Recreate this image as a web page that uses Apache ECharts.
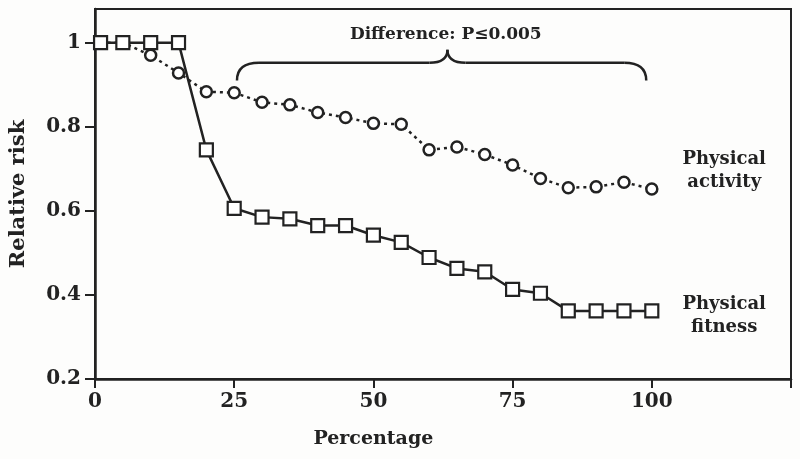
<!DOCTYPE html>
<html>
<head>
<meta charset="utf-8">
<script src="https://cdn.jsdelivr.net/npm/echarts@6/dist/echarts.min.js"></script>
<style>
html,body{margin:0;padding:0;background:#fdfdfc;}
#c{width:800px;height:459px;}
</style>
</head>
<body>
<div id="c"></div>
<script>
var percentages = [1, 5, 10, 15, 20, 25, 30, 35, 40, 45, 50, 55, 60, 65, 70, 75, 80, 85, 90, 95, 100];
var physicalFitness = [1.0, 1.0, 1.0, 1.0, 0.745, 0.606, 0.585, 0.581, 0.565, 0.565, 0.542, 0.525, 0.489, 0.463, 0.455, 0.413, 0.404, 0.362, 0.362, 0.362, 0.362];
var physicalActivity = [1.0, 1.0, 0.970, 0.928, 0.883, 0.881, 0.858, 0.852, 0.834, 0.822, 0.808, 0.806, 0.745, 0.752, 0.734, 0.709, 0.677, 0.655, 0.657, 0.668, 0.652];
var xTicks = [0, 25, 50, 75, 100, 125];
var xTickLabels = [0, 25, 50, 75, 100];
var yTicks = [0.2, 0.4, 0.6, 0.8, 1];
var annotationText = 'Difference: P\u22640.005';
var seriesNames = ['Physical\nactivity', 'Physical\nfitness'];

var ink = '#222';
var FONT = 'DejaVu Serif';

function zip(xs, ys) { return xs.map(function (x, i) { return [x, ys[i]]; }); }

var chart = echarts.init(document.getElementById('c'), null, {renderer: 'canvas'});
chart.setOption({
  backgroundColor: '#fdfdfc',
  animation: false,
  grid: {left: 94, right: 9, top: 9, bottom: 80, show: true, borderColor: ink, borderWidth: 2, backgroundColor: 'transparent'},
  xAxis: {
    type: 'value', min: 0, max: 125, interval: 25,
    axisLine: {lineStyle: {color: ink, width: 2.5}},
    axisTick: {show: true, inside: false, length: 9, lineStyle: {color: ink, width: 2}, customValues: xTicks},
    axisLabel: {customValues: xTickLabels, color: ink, fontFamily: FONT, fontWeight: 'bold', fontSize: 20, margin: 13},
    splitLine: {show: false}
  },
  yAxis: {
    type: 'value', min: 0.2, max: 1.08, interval: 0.2,
    axisLine: {show: true, lineStyle: {color: ink, width: 2.5}},
    axisTick: {show: true, inside: false, length: 10, lineStyle: {color: ink, width: 2}, customValues: yTicks},
    axisLabel: {customValues: yTicks, color: ink, fontFamily: FONT, fontWeight: 'bold', fontSize: 20, margin: 14,
      formatter: function (v) { return String(Math.round(v * 10) / 10); }},
    splitLine: {show: false},
    name: 'Relative risk', nameLocation: 'middle', nameGap: 66, nameRotate: 90,
    nameTextStyle: {color: ink, fontFamily: FONT, fontWeight: 'bold', fontSize: 21}
  },
  series: [
    {
      name: 'Physical activity', type: 'line', data: zip(percentages, physicalActivity),
      symbol: 'circle', symbolSize: 11, z: 2,
      lineStyle: {color: ink, width: 2.5, type: [3, 4]},
      itemStyle: {color: '#fff', borderColor: ink, borderWidth: 2.5}
    },
    {
      name: 'Physical fitness', type: 'line', data: zip(percentages, physicalFitness),
      symbol: 'rect', symbolSize: 13, z: 3,
      lineStyle: {color: ink, width: 2.5},
      itemStyle: {color: '#fff', borderColor: ink, borderWidth: 2.2}
    }
  ]
});

function px(x, y) { return chart.convertToPixel({gridIndex: 0}, [x, y]); }

var L = px(25.5, 0.91), R = px(99, 0.91), M = px(63.3, 0.983);
var lineY = px(0, 0.952)[1];
var r = 22, r2 = 18;
var braceStyle = {fill: null, stroke: ink, lineWidth: 2.5};
function curve(x1, y1, cx, cy, x2, y2) {
  return {type: 'bezierCurve', shape: {x1: x1, y1: y1, cpx1: cx, cpy1: cy, x2: x2, y2: y2}, style: braceStyle};
}
function seg(x1, y1, x2, y2) {
  return {type: 'line', shape: {x1: x1, y1: y1, x2: x2, y2: y2}, style: braceStyle};
}

var tPos = px(63, 1.018);
var actPos = px(113, 0.695);
var fitPos = px(113, 0.35);
var xName = px(50, 0);

chart.setOption({
  graphic: [
    curve(L[0], L[1], L[0], lineY, L[0] + r, lineY),
    seg(L[0] + r, lineY, M[0] - r2, lineY),
    curve(M[0] - r2, lineY, M[0], lineY, M[0], M[1]),
    curve(M[0], M[1], M[0], lineY, M[0] + r2, lineY),
    seg(M[0] + r2, lineY, R[0] - r, lineY),
    curve(R[0] - r, lineY, R[0], lineY, R[0], R[1]),
    {type: 'text', x: tPos[0], y: tPos[1], style: {text: annotationText, fill: ink, font: 'bold 17px "DejaVu Serif"', textAlign: 'center', textVerticalAlign: 'middle'}},
    {type: 'text', x: actPos[0], y: actPos[1], style: {text: seriesNames[0], fill: ink, font: 'bold 18px "DejaVu Serif"', textAlign: 'center', textVerticalAlign: 'middle', lineHeight: 23}},
    {type: 'text', x: fitPos[0], y: fitPos[1], style: {text: seriesNames[1], fill: ink, font: 'bold 18px "DejaVu Serif"', textAlign: 'center', textVerticalAlign: 'middle', lineHeight: 23}},
    {type: 'text', x: xName[0], y: 439, style: {text: 'Percentage', fill: ink, font: 'bold 19px "DejaVu Serif"', textAlign: 'center', textVerticalAlign: 'middle'}}
  ]
});
</script>
</body>
</html>
